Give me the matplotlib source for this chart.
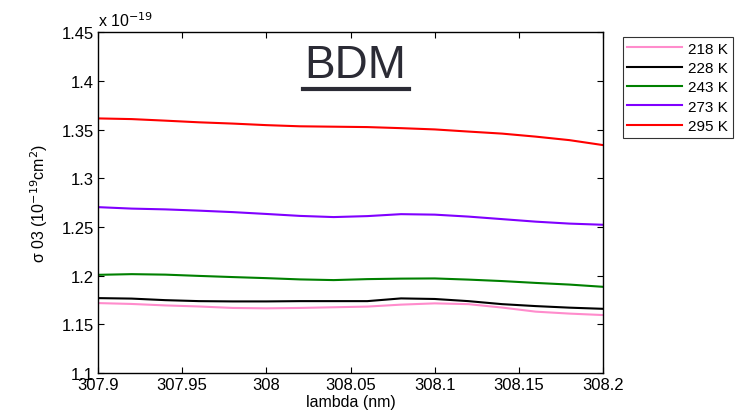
import numpy as np
import matplotlib
matplotlib.use("Agg")
import matplotlib.pyplot as plt
from matplotlib.ticker import FuncFormatter

plt.rcParams['font.family'] = ['Liberation Sans', 'DejaVu Sans']

wavelength = [307.90, 307.92, 307.94, 307.96, 307.98, 308.00, 308.02, 308.04,
              308.06, 308.08, 308.10, 308.12, 308.14, 308.16, 308.18, 308.20]

s218 = [1.1718, 1.1709, 1.1694, 1.1683, 1.1668, 1.1664, 1.1668, 1.1675,
        1.1682, 1.1702, 1.1715, 1.1707, 1.1672, 1.1630, 1.1610, 1.1595]
s228 = [1.1769, 1.1764, 1.1748, 1.1738, 1.1735, 1.1735, 1.1738, 1.1738,
        1.1738, 1.1766, 1.1760, 1.1738, 1.1707, 1.1687, 1.1671, 1.1659]
s243 = [1.2008, 1.2015, 1.2010, 1.1997, 1.1985, 1.1974, 1.1961, 1.1954,
        1.1964, 1.1969, 1.1971, 1.1959, 1.1944, 1.1925, 1.1908, 1.1885]
s273 = [1.2703, 1.2688, 1.2680, 1.2667, 1.2652, 1.2633, 1.2613, 1.2601,
        1.2611, 1.2631, 1.2626, 1.2606, 1.2580, 1.2554, 1.2534, 1.2522]
s295 = [1.3614, 1.3607, 1.3591, 1.3574, 1.3561, 1.3545, 1.3533, 1.3529,
        1.3525, 1.3514, 1.3501, 1.3479, 1.3458, 1.3427, 1.3391, 1.3340]

labels = ["218 K", "228 K", "243 K", "273 K", "295 K"]
colors = ["#ff8ccc", "#000000", "#008000", "#8000ff", "#ff0000"]

fig = plt.figure(figsize=(7.51, 4.14), dpi=100)
ax = fig.add_axes([0.1305, 0.0966, 0.6725, 0.8234])

for ys, lab, c in zip([s218, s228, s243, s273, s295], labels, colors):
    ax.plot(wavelength, ys, color=c, lw=1.5, label=lab)

ax.set_xlim(307.9, 308.2)
ax.set_ylim(1.1, 1.45)
ax.set_xticks([307.9, 307.95, 308.0, 308.05, 308.1, 308.15, 308.2])
ax.set_yticks([1.1, 1.15, 1.2, 1.25, 1.3, 1.35, 1.4, 1.45])
fmt = FuncFormatter(lambda v, p: "%g" % round(v, 4))
ax.xaxis.set_major_formatter(fmt)
ax.yaxis.set_major_formatter(fmt)
ax.tick_params(direction="in", top=True, right=True, labelsize=12, length=4, width=0.8, pad=3)
for sp in ax.spines.values():
    sp.set_linewidth(1.0)

ax.set_xlabel("lambda (nm)", fontsize=11.5, labelpad=1)
ax.set_ylabel(r"σ 03 (10$^{-19}$cm$^2$)", fontsize=11.5, labelpad=8)
ax.text(0.0, 1.01, r"x 10$^{-19}$", transform=ax.transAxes, fontsize=11.5, va="bottom", ha="left")

ax.text(0.509, 0.903, "BDM", transform=ax.transAxes, fontsize=33, color="#2b2b35",
        ha="center", va="center")
ax.plot([0.405, 0.616], [0.833, 0.833], transform=ax.transAxes, color="#2b2b35", lw=3)

leg = fig.legend(loc="upper left", bbox_to_anchor=(0.829, 0.908), fontsize=11,
                 frameon=True, fancybox=False, edgecolor="black", handlelength=3.6,
                 borderpad=0.3, labelspacing=0.35, handletextpad=0.4, borderaxespad=0)
leg.get_frame().set_linewidth(0.8)

fig.savefig("out.png", dpi=100)
